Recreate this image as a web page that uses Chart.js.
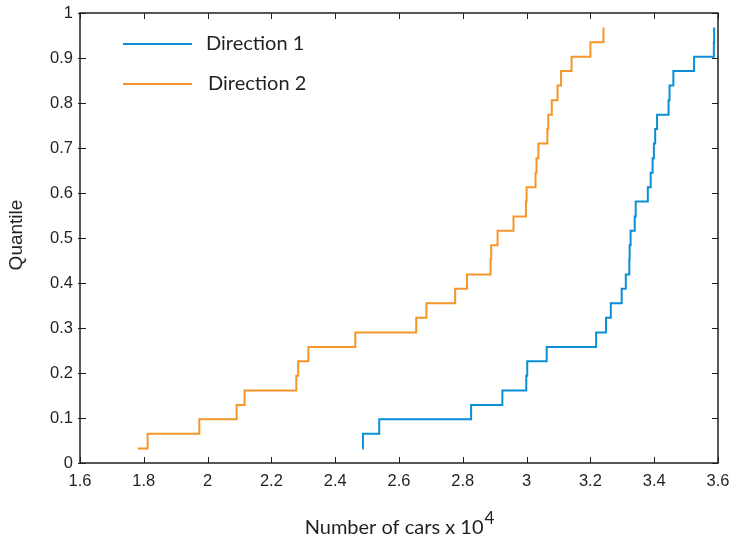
<!DOCTYPE html>
<html>
<head>
<meta charset="utf-8">
<script src="https://cdn.jsdelivr.net/npm/chart.js@4.4.1/dist/chart.umd.min.js"></script>
<style>
  html, body { margin: 0; padding: 0; background: #fff; }
</style>
</head>
<body>
<canvas id="quantChart" width="731" height="538"></canvas>
<script>
// quantile level of each step
const quantiles = [0.032, 0.065, 0.097, 0.129, 0.161, 0.194, 0.226, 0.258, 0.290, 0.323,
                   0.355, 0.387, 0.419, 0.452, 0.484, 0.516, 0.548, 0.581, 0.613, 0.645,
                   0.677, 0.710, 0.742, 0.774, 0.806, 0.839, 0.871, 0.903, 0.935, 0.968];

// number of cars (x 10^4)
const dir1Cars = [2.485, 2.487, 2.538, 2.826, 2.924, 2.999, 3.002, 3.063, 3.218, 3.249,
                  3.264, 3.298, 3.311, 3.322, 3.323, 3.326, 3.339, 3.342, 3.380, 3.389,
                  3.395, 3.399, 3.403, 3.409, 3.445, 3.448, 3.460, 3.525, 3.587, 3.588];
const dir2Cars = [1.781, 1.812, 1.974, 2.091, 2.116, 2.278, 2.284, 2.316, 2.463, 2.654,
                  2.686, 2.776, 2.813, 2.887, 2.889, 2.909, 2.959, 2.998, 3.000, 3.028,
                  3.031, 3.037, 3.065, 3.068, 3.079, 3.097, 3.108, 3.141, 3.200, 3.241];

const seriesNames = ['Direction 1', 'Direction 2'];
const xTicks = [1.6, 1.8, 2.0, 2.2, 2.4, 2.6, 2.8, 3.0, 3.2, 3.4, 3.6];
const yTicks = [0, 0.1, 0.2, 0.3, 0.4, 0.5, 0.6, 0.7, 0.8, 0.9, 1];
const xTitle = 'Number of cars x 10';
const xTitleExp = '4';
const yTitle = 'Quantile';

const axisColor = '#231f20';
const tickFont = { family: 'Liberation Sans', size: 16.5 };

const toPoints = (xs) => xs.map((x, i) => ({ x: x, y: quantiles[i] }));

// box, inward ticks, axis titles and legend drawn MATLAB style
const matlabFrame = {
  id: 'matlabFrame',
  afterDraw(chart) {
    const { ctx, chartArea: a, scales } = chart;
    ctx.save();
    ctx.strokeStyle = axisColor;
    ctx.lineWidth = 1.5;
    ctx.strokeRect(a.left, a.top, a.right - a.left, a.bottom - a.top);
    ctx.lineWidth = 1;
    ctx.beginPath();
    xTicks.forEach(v => {
      const px = Math.round(scales.x.getPixelForValue(v)) + 0.5;
      ctx.moveTo(px, a.bottom); ctx.lineTo(px, a.bottom - 6);
      ctx.moveTo(px, a.top); ctx.lineTo(px, a.top + 6);
    });
    yTicks.forEach(v => {
      const py = Math.round(scales.y.getPixelForValue(v)) + 0.5;
      ctx.moveTo(a.left - 2, py); ctx.lineTo(a.left + 6, py);
      ctx.moveTo(a.right, py); ctx.lineTo(a.right - 6, py);
    });
    ctx.stroke();

    // axis titles
    ctx.fillStyle = axisColor;
    ctx.textBaseline = 'alphabetic';
    ctx.font = '20px Lato';
    const mainW = ctx.measureText(xTitle).width;
    ctx.font = '17px Lato';
    const expW = ctx.measureText(xTitleExp).width;
    const cx = (a.left + a.right) / 2;
    const startX = cx - (mainW + expW) / 2;
    ctx.font = '20px Lato';
    ctx.textAlign = 'left';
    ctx.fillText(xTitle, startX, 534);
    ctx.font = '17px Lato';
    ctx.fillText(xTitleExp, startX + mainW + 1, 524);

    ctx.save();
    ctx.translate(17, 235);
    ctx.rotate(-Math.PI / 2);
    ctx.textAlign = 'center';
    ctx.textBaseline = 'middle';
    ctx.font = '19px "Liberation Sans"';
    ctx.fillText(yTitle, 0, 0);
    ctx.restore();

    // legend inside the axes
    ctx.font = '20px Lato';
    ctx.textAlign = 'left';
    ctx.textBaseline = 'middle';
    chart.data.datasets.forEach((ds, i) => {
      const y = a.top + 31 + i * 40;
      ctx.strokeStyle = ds.borderColor;
      ctx.lineWidth = 2;
      ctx.beginPath();
      ctx.moveTo(a.left + 43, y);
      ctx.lineTo(a.left + 112, y);
      ctx.stroke();
      ctx.fillStyle = axisColor;
      ctx.fillText(ds.label, a.left + 126 + i * 2, y);
    });
    ctx.restore();
  }
};

new Chart(document.getElementById('quantChart'), {
  type: 'line',
  plugins: [matlabFrame],
  data: {
    datasets: [
      {
        label: seriesNames[0],
        data: toPoints(dir1Cars),
        borderColor: '#0a8fd6',
        borderWidth: 2,
        stepped: true,
        pointRadius: 0,
        fill: false
      },
      {
        label: seriesNames[1],
        data: toPoints(dir2Cars),
        borderColor: '#f5962a',
        borderWidth: 2,
        stepped: true,
        pointRadius: 0,
        fill: false
      }
    ]
  },
  options: {
    responsive: false,
    animation: false,
    devicePixelRatio: 1,
    layout: { padding: { left: 0, right: 13, top: 13, bottom: 0 } },
    plugins: {
      legend: { display: false },
      tooltip: { enabled: false }
    },
    scales: {
      x: {
        type: 'linear',
        min: 1.6,
        max: 3.6,
        afterBuildTicks: scale => { scale.ticks = xTicks.map(v => ({ value: v })); },
        afterFit: scale => {
          scale.height = 75;
          scale.paddingLeft = 0;
          scale.paddingRight = 0;
        },
        grid: { display: false, drawTicks: false },
        border: { display: false },
        ticks: {
          padding: 9,
          color: axisColor,
          font: tickFont,
          maxRotation: 0,
          callback: v => String(+v.toFixed(1))
        }
      },
      y: {
        type: 'linear',
        min: 0,
        max: 1,
        afterBuildTicks: scale => { scale.ticks = yTicks.map(v => ({ value: v })); },
        afterFit: scale => {
          scale.width = 80;
          scale.paddingTop = 0;
          scale.paddingBottom = 0;
        },
        grid: { display: false, drawTicks: false },
        border: { display: false },
        ticks: {
          padding: 7,
          color: axisColor,
          font: tickFont,
          callback: v => String(+v.toFixed(1))
        }
      }
    }
  }
});
</script>
</body>
</html>
